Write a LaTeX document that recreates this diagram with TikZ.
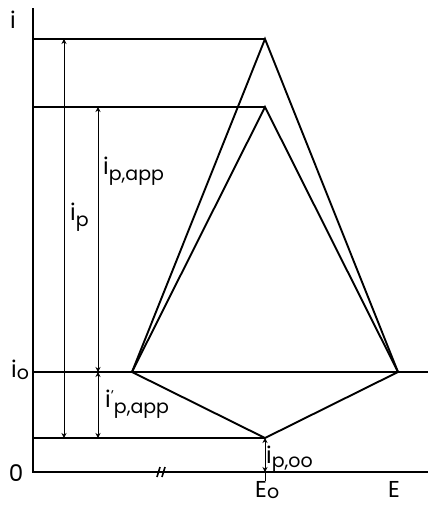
\documentclass[tikz,border=0pt]{standalone}
\usepackage{fontspec}
\setmainfont{Poppins}
\usetikzlibrary{arrows.meta}
\newcommand{\lbsub}[2][0.3em]{\raisebox{-#1}{\fontsize{19}{19}\selectfont #2}}
\begin{document}
\begin{tikzpicture}[x=1pt,y=-1pt,
  axis/.style={line width=1.6pt},
  curve/.style={line width=1.9pt, line join=miter},
  guide/.style={line width=1.2pt},
  dim/.style={line width=0.9pt, {Stealth[length=5pt,width=5pt]}-{Stealth[length=5pt,width=5pt]}},
  lab/.style={font=\fontsize{23}{25}\selectfont, inner sep=0pt},
  biglab/.style={font=\fontsize{23}{25}\selectfont, inner sep=0pt}]
\useasboundingbox (0,0) rectangle (428,506);
% coordinates
\coordinate (O) at (33,472);
\coordinate (Ytop) at (33,8);
\coordinate (Xend) at (428,472);
\coordinate (P1) at (265,39);
\coordinate (P2) at (265,107);
\coordinate (L) at (132,372);
\coordinate (R) at (398,372);
\coordinate (V) at (265,438);
\coordinate (I1) at (33,39);
\coordinate (I2) at (33,107);
\coordinate (I0) at (33,372);
\coordinate (I0e) at (428,372);
\coordinate (IB) at (33,438);
\coordinate (A1t) at (64,39);
\coordinate (A1b) at (64,438);
\coordinate (A2t) at (98,107);
\coordinate (A2m) at (98,372);
\coordinate (A2b) at (98,438);
\coordinate (A3t) at (265,438);
\coordinate (A3b) at (265,472);
\coordinate (Tk) at (265,481);
\coordinate (B1a) at (157,477);
\coordinate (B1b) at (160,467);
\coordinate (B2a) at (162,477);
\coordinate (B2b) at (165,467);
% axes
\draw[axis] (Ytop) -- (O) -- (Xend);
\draw[axis] (B1a) -- (B1b);
\draw[axis] (B2a) -- (B2b);
% guides
\draw[guide] (I1) -- (P1);
\draw[guide] (I2) -- (P2);
\draw[axis] (I0) -- (I0e);
\draw[guide] (IB) -- (V);
% curves
\draw[curve] (L) -- (P1) -- (R);
\draw[curve] (L) -- (P2) -- (R);
\draw[curve] (L) -- (V) -- (R);
% dimension arrows
\draw[dim] (A1t) -- (A1b);
\draw[dim] (A2t) -- (A2m);
\draw[dim] (A2m) -- (A2b);
\draw[dim] (A3t) -- (A3b);
\draw[line width=0.9pt] (A3b) -- (Tk);
% labels
\node[lab] (li) at (13,20) {i};
\node[lab, anchor=base west] (lio) at (11,377) {i\lbsub[0.1em]{o}};
\node[biglab] (lzero) at (16,473) {0};
\node[lab, anchor=base west] (lip) at (70,220) {i\lbsub{p}};
\node[lab, anchor=base west] (lipapp) at (103,174) {i\lbsub{p,app}};
\node[lab, anchor=base west] (lipapp2) at (105,407) {i\raisebox{0.3em}{\fontsize{14}{14}\selectfont\textquoteright}\lbsub{p,app}};
\node[lab, anchor=base west] (lipoo) at (266,463) {i\lbsub[0.2em]{p,oo}};
\node[biglab, anchor=base west] (lEo) at (255,497) {E\lbsub[0.05em]{o}};
\node[biglab, anchor=base west] (lE) at (388,497) {E};
\end{tikzpicture}
\end{document}
